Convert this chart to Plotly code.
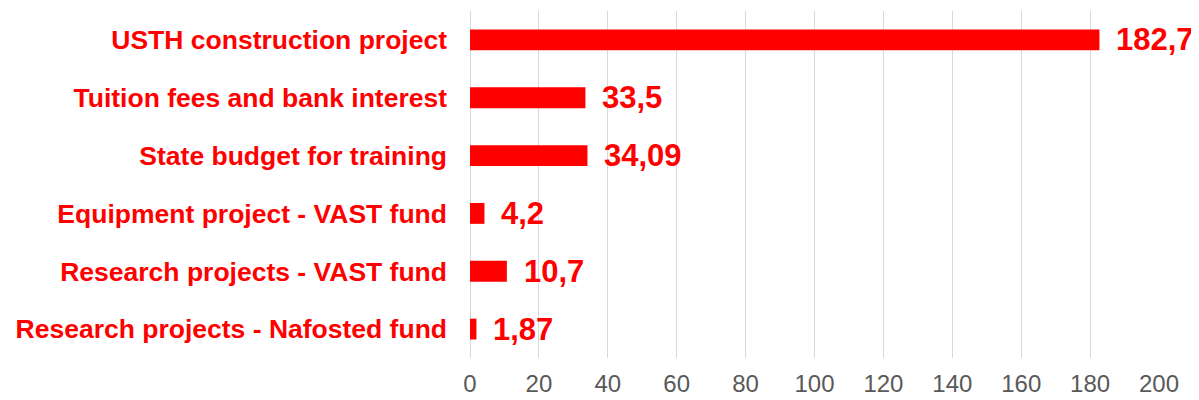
import plotly.graph_objects as go

categories = [
    "USTH construction project",
    "Tuition fees and bank interest",
    "State budget for training",
    "Equipment project - VAST fund",
    "Research projects - VAST fund",
    "Research projects - Nafosted fund",
]
values = [182.7, 33.5, 34.09, 4.2, 10.7, 1.87]
value_labels = ["182,7", "33,5", "34,09", "4,2", "10,7", "1,87"]
x_ticks = [0, 20, 40, 60, 80, 100, 120, 140, 160, 180, 200]

RED = "#ff0000"
FONT = "Liberation Sans, Arial, sans-serif"

fig = go.Figure()
fig.add_trace(go.Bar(
    y=categories, x=values, orientation="h",
    marker=dict(color=RED, line=dict(width=0)),
    hoverinfo="skip",
))

for c, v, t in zip(categories, values, value_labels):
    fig.add_annotation(
        x=v, y=c, text=f"<b>{t}</b>", showarrow=False,
        xanchor="left", yanchor="middle", xshift=15,
        font=dict(family=FONT, size=31, color=RED),
    )

fig.update_layout(
    width=1191, height=392,
    margin=dict(l=462, r=40, t=3, b=40),
    paper_bgcolor="white", plot_bgcolor="white",
    bargap=0.64, showlegend=False,
    xaxis=dict(
        range=[0, 200], tickvals=x_ticks,
        showgrid=True, gridcolor="#d9d9d9", gridwidth=1,
        zeroline=True, zerolinecolor="#d9d9d9", zerolinewidth=1,
        showline=False, ticks="",
        tickfont=dict(family=FONT, size=24, color="#595959"),
        ticklabelstandoff=9,
    ),
    yaxis=dict(
        categoryorder="array", categoryarray=categories,
        autorange="reversed",
        showgrid=False, showline=False, ticks="",
        tickfont=dict(family=FONT, size=26.5, color=RED, weight="bold"),
        ticklabelstandoff=22,
    ),
)

fig.write_html("out.html")
